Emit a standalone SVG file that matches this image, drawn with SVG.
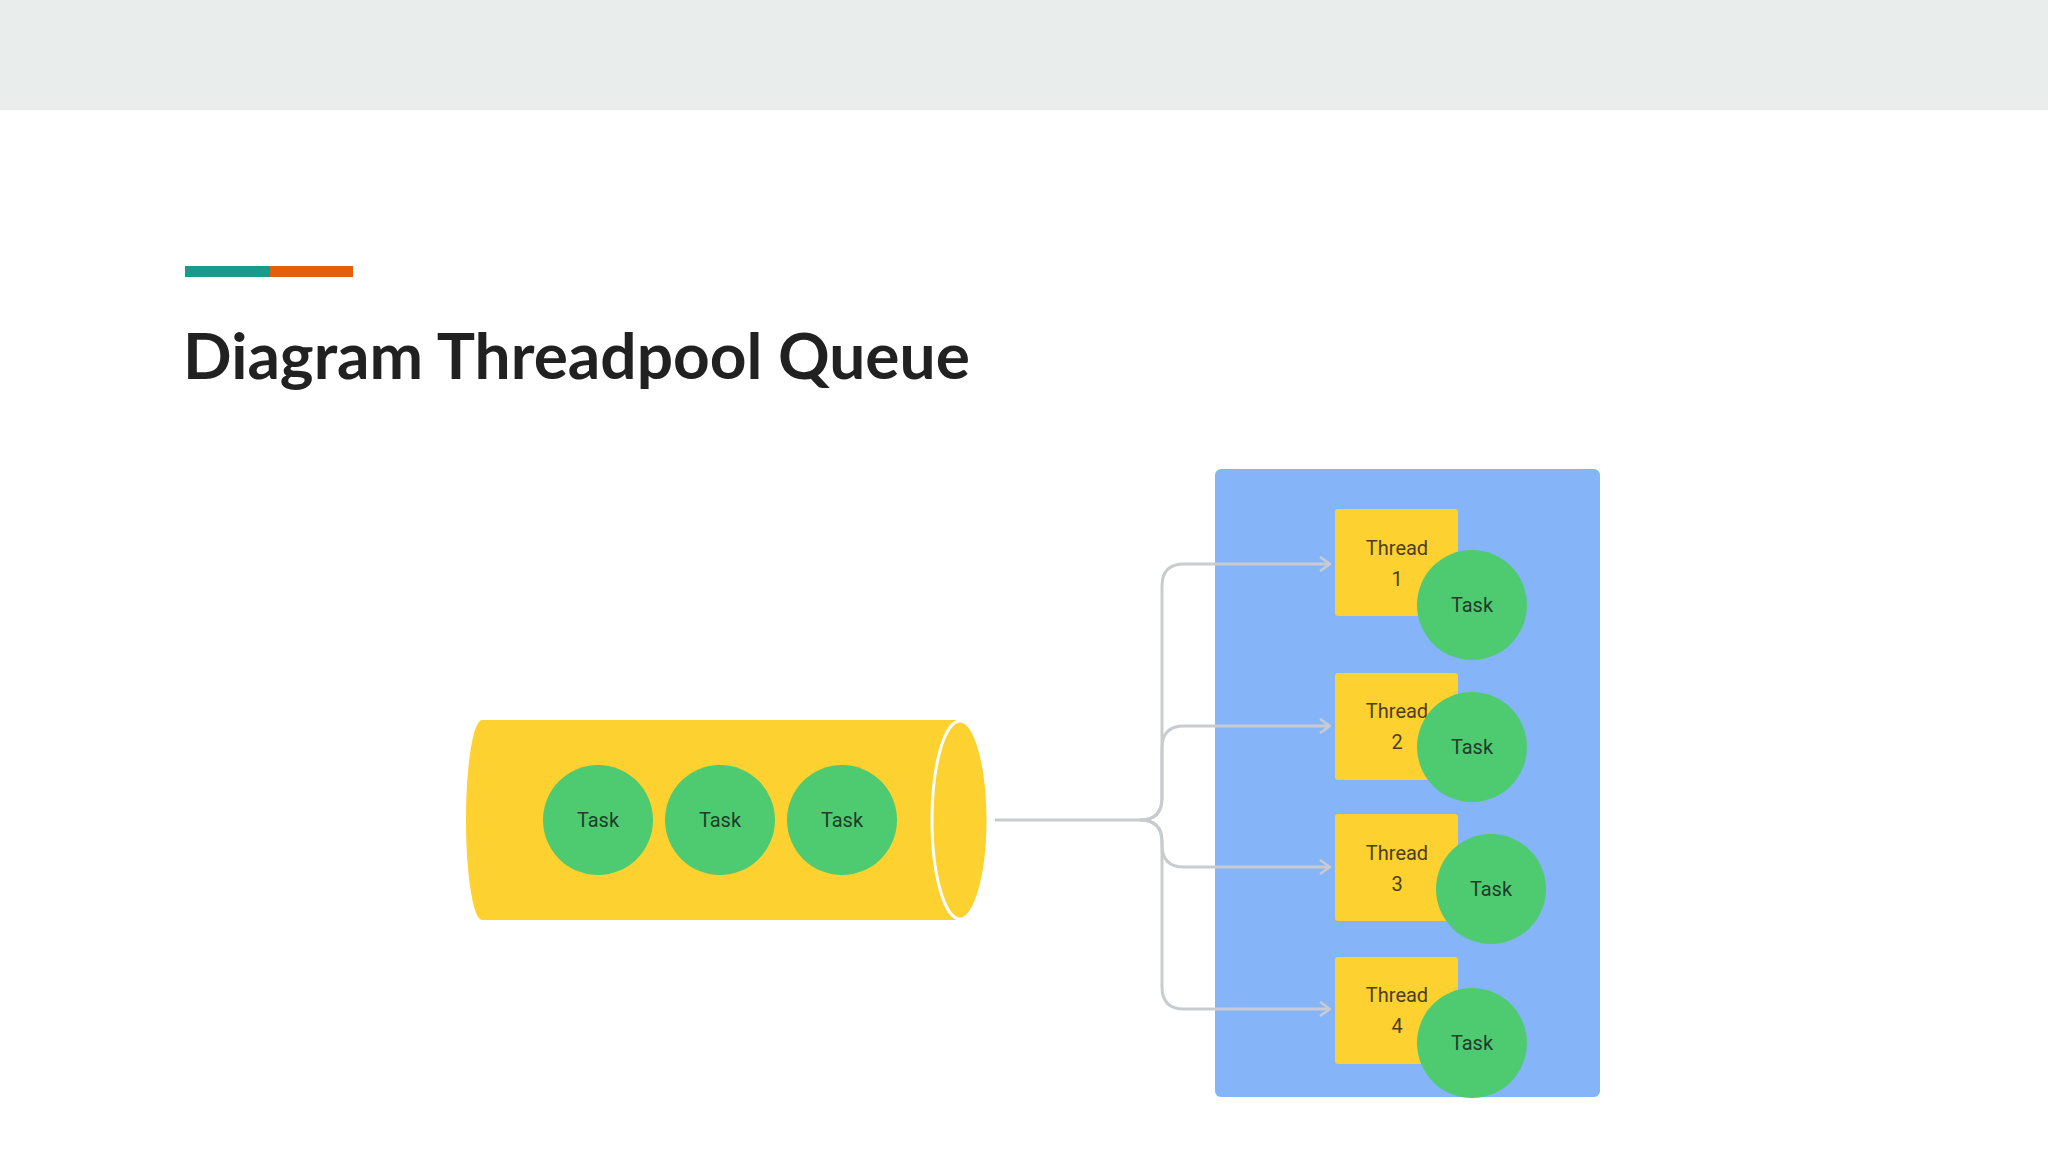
<svg xmlns="http://www.w3.org/2000/svg" width="2048" height="1152" viewBox="0 0 2048 1152">
<defs>
<style>
.task{fill:#4ecb71}
.tt{font-family:Roboto,"Liberation Sans",sans-serif;font-size:20px;fill:#1f3d2a;text-anchor:middle}
.thr{fill:#fdd130}
.th{font-family:Roboto,"Liberation Sans",sans-serif;font-size:20px;fill:#4a3f1a;text-anchor:middle}
.conn{fill:none;stroke:#c9cccf;stroke-width:3}
</style>
<marker id="ah" viewBox="0 0 12 16" refX="11" refY="8" markerWidth="12" markerHeight="16" markerUnits="userSpaceOnUse" orient="auto"><path d="M1,1 L11,8 L1,15" fill="none" stroke="#c9cccf" stroke-width="2.5"/></marker>
</defs>
<rect width="2048" height="1152" fill="#fff"/>
<rect width="2048" height="110" fill="#e9eeed"/>
<rect x="185" y="266" width="85" height="11" fill="#1a9a8c"/>
<rect x="270" y="266" width="83" height="11" fill="#e55f0c"/>
<text x="183" y="379" font-family="Lato,'Liberation Sans',sans-serif" font-weight="700" font-size="64" fill="#212121">Diagram Threadpool Queue</text>

<g id="queue">
<path d="M482,720 L960,720 A29,100 0 0 1 960,920 L482,920 A16,100 0 0 1 482,720 Z" fill="#fdd130"/>
<ellipse cx="960" cy="820" rx="28" ry="99" fill="#fdd130" stroke="#fff" stroke-width="3"/>
</g>
<g id="qtask1"><circle class="task" cx="598" cy="820" r="55"/><text class="tt" x="598" y="827">Task</text></g>
<g id="qtask2"><circle class="task" cx="720" cy="820" r="55"/><text class="tt" x="720" y="827">Task</text></g>
<g id="qtask3"><circle class="task" cx="842" cy="820" r="55"/><text class="tt" x="842" y="827">Task</text></g>

<g id="pool"><rect x="1215" y="469" width="385" height="628" rx="6" fill="#85b4f9"/></g>

<g id="connectors">
<path class="conn" d="M995,820 H1140 Q1162,820 1162,798 V586 Q1162,564 1184,564 H1330" marker-end="url(#ah)"/>
<path class="conn" d="M1140,820 Q1162,820 1162,798 V748 Q1162,726 1184,726 H1330" marker-end="url(#ah)"/>
<path class="conn" d="M1140,820 Q1162,820 1162,842 V845 Q1162,867 1184,867 H1330" marker-end="url(#ah)"/>
<path class="conn" d="M1140,820 Q1162,820 1162,842 V987 Q1162,1009 1184,1009 H1330" marker-end="url(#ah)"/>
</g>

<g id="thread1"><rect class="thr" x="1335" y="509" width="123" height="107" rx="3"/><text class="th" x="1397" y="555">Thread</text><text class="th" x="1397" y="586">1</text></g>
<g id="task1"><circle class="task" cx="1472" cy="605" r="55"/><text class="tt" x="1472" y="612">Task</text></g>
<g id="thread2"><rect class="thr" x="1335" y="673" width="123" height="107" rx="3"/><text class="th" x="1397" y="718">Thread</text><text class="th" x="1397" y="749">2</text></g>
<g id="task2"><circle class="task" cx="1472" cy="747" r="55"/><text class="tt" x="1472" y="754">Task</text></g>
<g id="thread3"><rect class="thr" x="1335" y="814" width="123" height="107" rx="3"/><text class="th" x="1397" y="860">Thread</text><text class="th" x="1397" y="891">3</text></g>
<g id="task3"><circle class="task" cx="1491" cy="889" r="55"/><text class="tt" x="1491" y="896">Task</text></g>
<g id="thread4"><rect class="thr" x="1335" y="957" width="123" height="107" rx="3"/><text class="th" x="1397" y="1002">Thread</text><text class="th" x="1397" y="1033">4</text></g>
<g id="task4"><circle class="task" cx="1472" cy="1043" r="55"/><text class="tt" x="1472" y="1050">Task</text></g>
</svg>
